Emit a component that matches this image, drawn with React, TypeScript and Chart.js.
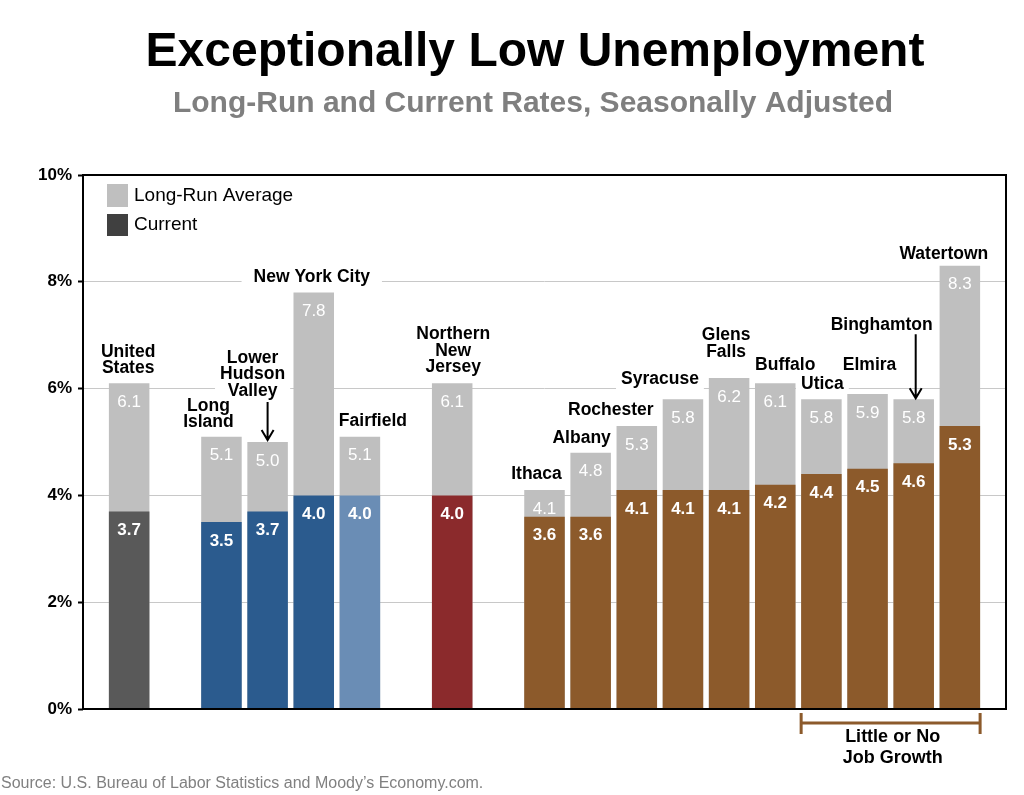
import React, { useEffect, useRef } from 'react';
import { Chart, registerables } from 'chart.js';

Chart.register(...registerables);

// ---------- data ----------
const categories: string[] = [
  '', 'United States', '', 'Long Island', 'Lower Hudson Valley', 'New York City', 'Fairfield', '',
  'Northern New Jersey', '', 'Ithaca', 'Albany', 'Rochester', 'Syracuse', 'Glens Falls', 'Buffalo',
  'Utica', 'Elmira', 'Binghamton', 'Watertown', '',
];
const longRunAverage: (number | null)[] = [
  null, 6.1, null, 5.1, 5.0, 7.8, 5.1, null, 6.1, null, 4.1, 4.8, 5.3, 5.8, 6.2, 6.1, 5.8, 5.9, 5.8, 8.3, null,
];
const currentRate: (number | null)[] = [
  null, 3.7, null, 3.5, 3.7, 4.0, 4.0, null, 4.0, null, 3.6, 3.6, 4.1, 4.1, 4.1, 4.2, 4.4, 4.5, 4.6, 5.3, null,
];
const regionGroup: string[] = [
  '', 'us', '', 'nyc', 'nyc', 'nyc', 'ct', '', 'nj', '', 'up', 'up', 'up', 'up', 'up', 'up', 'up', 'up', 'up', 'up', '',
];
const yTicks: number[] = [0, 2, 4, 6, 8, 10];
const littleGrowth: string[] = ['Utica', 'Watertown'];

const TITLE = 'Exceptionally Low Unemployment';
const SUBTITLE = 'Long-Run and Current Rates, Seasonally Adjusted';
const SOURCE = 'Source: U.S. Bureau of Labor Statistics and Moody\u2019s Economy.com.';
const LEGEND_LONG = 'Long-Run Average';
const LEGEND_CUR = 'Current';
const BRACKET_TEXT = ['Little or No', 'Job Growth'];

// ---------- styles ----------
const FONT = '"Liberation Sans", Arial, sans-serif';
const GREY = '#BFBFBF';
const groupColors: Record<string, string> = {
  us: '#595959',
  nyc: '#2B5B8E',
  ct: '#6A8DB5',
  nj: '#8B2A2C',
  up: '#8C5A2B',
};

// label styling: lines, horizontal shift, distance of last line center above bar top, arrow
type LabelStyle = { lines: string[]; dx: number; dy: number; arrow?: [number, number]; pad?: number };
const labelStyles: Record<string, LabelStyle> = {
  'United States': { lines: ['United', 'States'], dx: -1, dy: 15 },
  'Long Island': { lines: ['Long', 'Island'], dx: -13, dy: 14 },
  'Lower Hudson Valley': { lines: ['Lower', 'Hudson', 'Valley'], dx: -15, dy: 51, arrow: [40, 2] },
  'New York City': { lines: ['New York City'], dx: -2, dy: 15, pad: 12 },
  Fairfield: { lines: ['Fairfield'], dx: 13, dy: 15 },
  'Northern New Jersey': { lines: ['Northern', 'New', 'Jersey'], dx: 1, dy: 16 },
  Ithaca: { lines: ['Ithaca'], dx: -8, dy: 16 },
  Albany: { lines: ['Albany'], dx: -9, dy: 15 },
  Rochester: { lines: ['Rochester'], dx: -26, dy: 16 },
  Syracuse: { lines: ['Syracuse'], dx: -23, dy: 20 },
  'Glens Falls': { lines: ['Glens', 'Falls'], dx: -3, dy: 26 },
  Buffalo: { lines: ['Buffalo'], dx: 10, dy: 18 },
  Utica: { lines: ['Utica'], dx: 1, dy: 15 },
  Elmira: { lines: ['Elmira'], dx: 2, dy: 29 },
  Binghamton: { lines: ['Binghamton'], dx: -32, dy: 74, arrow: [65, 1] },
  Watertown: { lines: ['Watertown'], dx: -16, dy: 12, pad: 8 },
};
const LINE_H = 16.5;
const LABEL_FONT = `bold 17.5px ${FONT}`;

function labelBoxes(chart: any) {
  const x = chart.scales.x;
  const y = chart.scales.y;
  const ctx = chart.ctx;
  ctx.font = LABEL_FONT;
  const out: any[] = [];
  categories.forEach((c, i) => {
    const st = labelStyles[c];
    if (!st || longRunAverage[i] == null) return;
    const bx = x.getPixelForValue(i);
    const top = y.getPixelForValue(longRunAverage[i] as number);
    const cx = bx + st.dx;
    const lastY = top - st.dy;
    const n = st.lines.length;
    const w = Math.max(...st.lines.map((l) => ctx.measureText(l).width));
    out.push({ st, bx, top, cx, lastY, n, w });
  });
  return out;
}

const decorPlugin = {
  id: 'decor',
  beforeDatasetsDraw(chart: any) {
    const ctx = chart.ctx;
    ctx.save();
    ctx.fillStyle = '#FFFFFF';
    labelBoxes(chart).forEach((b) => {
      const pad = b.st.pad ?? 5;
      const y0 = b.lastY - (b.n - 1) * LINE_H - 10;
      const y1 = b.lastY + 10;
      ctx.fillRect(b.cx - b.w / 2 - pad, y0, b.w + pad * 2, y1 - y0);
    });
    ctx.restore();
  },
  afterDatasetsDraw(chart: any) {
    const ctx = chart.ctx;
    const { left, right, top, bottom } = chart.chartArea;
    const x = chart.scales.x;
    const y = chart.scales.y;
    ctx.save();

    // value labels
    const meta = chart.getDatasetMeta(1);
    const barW = meta.data.find((d: any) => d && d.width)?.width ?? 40;
    ctx.fillStyle = '#FFFFFF';
    ctx.textAlign = 'center';
    ctx.textBaseline = 'middle';
    categories.forEach((_, i) => {
      const lr = longRunAverage[i];
      const cr = currentRate[i];
      const bx = x.getPixelForValue(i);
      if (lr != null) {
        ctx.font = `17px ${FONT}`;
        ctx.fillText(lr.toFixed(1), bx, y.getPixelForValue(lr) + 19);
      }
      if (cr != null) {
        ctx.font = `bold 17px ${FONT}`;
        ctx.fillText(cr.toFixed(1), bx, y.getPixelForValue(cr) + 19);
      }
    });

    // category labels
    ctx.fillStyle = '#000000';
    ctx.strokeStyle = '#000000';
    ctx.font = LABEL_FONT;
    labelBoxes(chart).forEach((b) => {
      b.st.lines.forEach((l: string, k: number) => {
        ctx.fillText(l, b.cx, b.lastY - (b.n - 1 - k) * LINE_H);
      });
      if (b.st.arrow) {
        const ax = b.bx + (b.st.dx < -20 ? 2 : 0);
        const y0 = b.top - b.st.arrow[0];
        const y1 = b.top - b.st.arrow[1];
        ctx.lineWidth = 2;
        ctx.beginPath();
        ctx.moveTo(ax, y0);
        ctx.lineTo(ax, y1);
        ctx.moveTo(ax - 6, y1 - 10);
        ctx.lineTo(ax, y1);
        ctx.lineTo(ax + 6, y1 - 10);
        ctx.stroke();
      }
    });

    // plot border
    ctx.lineWidth = 2;
    ctx.strokeStyle = '#000000';
    ctx.strokeRect(left, top, right - left, bottom - top);

    // legend
    const lx = left + 24;
    ctx.fillStyle = GREY;
    ctx.fillRect(lx, top + 9, 21, 23);
    ctx.fillStyle = '#404040';
    ctx.fillRect(lx, top + 39, 21, 22);
    ctx.fillStyle = '#000000';
    ctx.textAlign = 'left';
    ctx.font = `19px ${FONT}`;
    ctx.fillText(LEGEND_LONG, lx + 27, top + 21);
    ctx.fillText(LEGEND_CUR, lx + 27, top + 50);

    // bracket
    const i0 = categories.indexOf(littleGrowth[0]);
    const i1 = categories.indexOf(littleGrowth[1]);
    const bx0 = x.getPixelForValue(i0) - barW / 2;
    const bx1 = x.getPixelForValue(i1) + barW / 2;
    const by = bottom + 14;
    ctx.strokeStyle = '#8C5A2B';
    ctx.lineWidth = 3;
    ctx.beginPath();
    ctx.moveTo(bx0, by - 10);
    ctx.lineTo(bx0, by + 11);
    ctx.moveTo(bx0, by);
    ctx.lineTo(bx1, by);
    ctx.moveTo(bx1, by - 10);
    ctx.lineTo(bx1, by + 11);
    ctx.stroke();
    ctx.fillStyle = '#000000';
    ctx.textAlign = 'center';
    ctx.font = `bold 18px ${FONT}`;
    const bc = (bx0 + bx1) / 2 + 2;
    ctx.fillText(BRACKET_TEXT[0], bc, bottom + 28);
    ctx.fillText(BRACKET_TEXT[1], bc, bottom + 49);

    // title, subtitle, source
    ctx.textBaseline = 'alphabetic';
    ctx.font = `bold 48px ${FONT}`;
    ctx.fillText(TITLE, 535, 66);
    ctx.fillStyle = '#7F7F7F';
    ctx.font = `bold 30px ${FONT}`;
    ctx.fillText(SUBTITLE, 533, 112);
    ctx.textAlign = 'left';
    ctx.textBaseline = 'middle';
    ctx.font = `16px ${FONT}`;
    ctx.fillStyle = '#808080';
    ctx.fillText(SOURCE, 1, 784);

    ctx.restore();
  },
};

export default function App() {
  const ref = useRef<HTMLCanvasElement | null>(null);

  useEffect(() => {
    if (!ref.current) return;
    const chart = new Chart(ref.current, {
      type: 'bar',
      data: {
        labels: categories,
        datasets: [
          {
            label: LEGEND_CUR,
            data: currentRate,
            backgroundColor: regionGroup.map((g) => groupColors[g] || '#000'),
            grouped: false,
            order: 0,
            barPercentage: 0.878,
            categoryPercentage: 1,
            borderWidth: 0,
          } as any,
          {
            label: LEGEND_LONG,
            data: longRunAverage,
            backgroundColor: GREY,
            grouped: false,
            order: 1,
            barPercentage: 0.878,
            categoryPercentage: 1,
            borderWidth: 0,
          } as any,
        ],
      },
      options: {
        animation: false,
        responsive: true,
        maintainAspectRatio: false,
        layout: { padding: { left: 0, top: 175, right: 18, bottom: 86 } },
        plugins: {
          legend: { display: false },
          tooltip: { enabled: false },
          title: { display: false },
        },
        scales: {
          x: {
            type: 'category',
            offset: false,
            display: false,
            grid: { display: false },
          },
          y: {
            min: yTicks[0],
            max: yTicks[yTicks.length - 1],
            afterFit: (s: any) => {
              s.width = 83;
            },
            afterBuildTicks: (s: any) => {
              s.ticks = yTicks.map((v) => ({ value: v }));
            },
            ticks: {
              callback: (v: any) => `${v}%`,
              color: '#000000',
              font: { family: FONT, size: 17, weight: 'bold' },
              padding: 6,
            },
            grid: {
              color: (c: any) => (c.tick && (c.tick.value === 0 || c.tick.value === 10) ? 'rgba(0,0,0,0)' : '#C8C8C8'),
              lineWidth: 1,
              tickLength: 5,
              tickColor: '#000000',
              tickWidth: 2,
            },
            border: { display: false },
          },
        },
      } as any,
      plugins: [decorPlugin],
    });
    return () => chart.destroy();
  }, []);

  return (
    <div style={{ position: 'absolute', left: 0, top: 0, width: 1024, height: 795, background: '#fff' }}>
      <canvas ref={ref} />
    </div>
  );
}
